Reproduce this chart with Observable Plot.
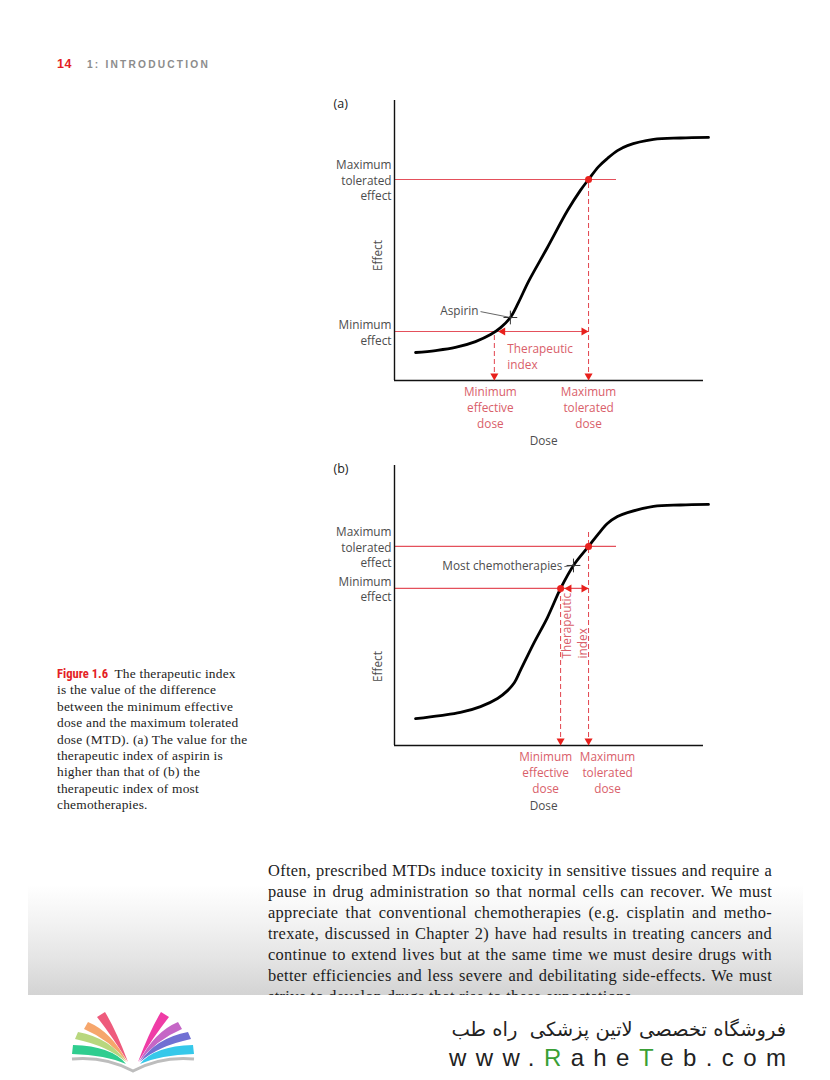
<!DOCTYPE html>
<html>
<head>
<meta charset="utf-8">
<script src="https://cdn.jsdelivr.net/npm/d3@7"></script>
<script src="https://cdn.jsdelivr.net/npm/@observablehq/plot@0.6"></script>
<style>
  html, body { margin: 0; padding: 0; background: #fff; }
  body { width: 830px; height: 1080px; position: relative; overflow: hidden; }
  .abs { position: absolute; }
  #header { left: 57px; top: 58px; font-family: 'Liberation Sans', Arial, sans-serif; font-weight: bold; line-height: 14px; white-space: nowrap; }
  #header .pg { color: #e41f26; font-size: 12.5px; letter-spacing: 0.5px; position: absolute; left: 0; top: -1px; }
  #header .ch { color: #8c8c8c; font-size: 10.2px; letter-spacing: 2.2px; position: absolute; left: 30px; top: 0; }
  #caption { left: 57px; top: 666px; width: 205px; font-family: 'Liberation Serif', 'Times New Roman', serif; font-size: 13.4px; line-height: 16.4px; letter-spacing: 0.22px; color: #222; white-space: nowrap; }
  #caption .fig { color: #e41f26; font-family: 'Liberation Sans Narrow', 'Roboto Condensed', 'Roboto', sans-serif; font-weight: bold; font-size: 12.6px; letter-spacing: 0; margin-right: 3px; }
  #band { left: 28px; top: 885px; width: 775px; height: 110px;
          background: linear-gradient(to bottom, rgba(255,255,255,0) 0%, #f2f2f2 35%, #e3e3e3 70%, #d3d3d3 100%); }
  #body { left: 268px; top: 859.5px; width: 504px; height: 135.5px; overflow: hidden;
          font-family: 'Liberation Serif', 'Times New Roman', serif; font-size: 16.4px; line-height: 21px; letter-spacing: 0.3px; color: #1c1c1c; }
  #body .ln { text-align: justify; text-align-last: justify; white-space: nowrap; }
  #body .last { text-align: left; text-align-last: left; }
  #fa { right: 44px; top: 1018px; font-family: 'DejaVu Sans', sans-serif; font-size: 19.5px; line-height: 24px; color: #222; direction: rtl; white-space: nowrap; }
  #www { right: 44px; top: 1043px; font-family: 'Liberation Sans', Arial, sans-serif; font-size: 24px; line-height: 30px; color: #222; letter-spacing: 9.4px; margin-right: -9.4px; white-space: nowrap; }
  #www .g { color: #3a9f36; }
  #logo { left: 60px; top: 1000px; }
</style>
</head>
<body>

<div id="header" class="abs"><span class="pg">14</span><span class="ch">1: INTRODUCTION</span></div>

<div id="chartA" class="abs" style="left:320px; top:90px;"></div>
<div id="chartB" class="abs" style="left:320px; top:455px;"></div>

<div id="caption" class="abs"><span class="fig">Figure 1.6</span> The therapeutic index<br>is the value of the difference<br>between the minimum effective<br>dose and the maximum tolerated<br>dose (MTD). (a) The value for the<br>therapeutic index of aspirin is<br>higher than that of (b) the<br>therapeutic index of most<br>chemotherapies.</div>

<div id="band" class="abs"></div>
<div id="body" class="abs">
  <div class="ln">Often, prescribed MTDs induce toxicity in sensitive tissues and require a</div>
  <div class="ln">pause in drug administration so that normal cells can recover. We must</div>
  <div class="ln">appreciate that conventional chemotherapies (e.g. cisplatin and metho-</div>
  <div class="ln">trexate, discussed in Chapter 2) have had results in treating cancers and</div>
  <div class="ln">continue to extend lives but at the same time we must desire drugs with</div>
  <div class="ln">better efficiencies and less severe and debilitating side-effects. We must</div>
  <div class="ln last">strive to develop drugs that rise to these expectations.</div>
</div>

<svg id="logo" class="abs" width="150" height="75" viewBox="0 0 150 75">
  <g>
    <path d="M45,12 Q56,30 68,62 Q52,36 37,17 Z" fill="#ee5b7c"/>
    <path d="M28,22 Q52,32 67,62 Q50,40 24,29 Z" fill="#f6a66c"/>
    <path d="M18,32 Q50,38 66,62 Q48,46 15,39 Z" fill="#b8d77e"/>
    <path d="M13,45 Q52,46 66,64 Q46,55 12,54 Z" fill="#2fcd8f"/>
  </g>
  <g transform="translate(146,0) scale(-1,1)">
    <path d="M45,12 Q56,30 68,62 Q52,36 37,17 Z" fill="#ef3ca6"/>
    <path d="M28,22 Q52,32 67,62 Q50,40 24,29 Z" fill="#c566c6"/>
    <path d="M18,32 Q50,38 66,62 Q48,46 15,39 Z" fill="#7070d3"/>
    <path d="M13,45 Q52,46 66,64 Q46,55 12,54 Z" fill="#35c8ea"/>
  </g>
  <path d="M12,59 Q45,56 73,71 Q101,56 134,59" fill="none" stroke="#bdbdbd" stroke-width="3"/>
</svg>

<div id="fa" class="abs">فروشگاه تخصصی لاتین پزشکی&nbsp; راه طب</div>
<div id="www" class="abs">www.<span class="g">R</span>ahe<span class="g">T</span>eb.com</div>

<script>
// ---------- data (dose / effect in arbitrary units, 0–100) ----------
// (a) aspirin dose–response curve
const doseA   = [6.7, 13.1, 19.4, 25.8, 30.6, 33.8, 36.9, 39.5, 42.7, 48.7, 55.1, 59.2, 61.8, 65.0, 67.8, 71.0, 74.2, 82.5, 91.1, 100];
const effectA = [10.0, 10.7, 11.8, 13.9, 16.4, 18.9, 22.5, 27.9, 35.4, 47.5, 60.7, 67.9, 71.8, 76.4, 79.3, 82.1, 83.9, 86.1, 86.6, 86.8];
const effectLevelsA = [17.5, 71.8];   // minimum effect, maximum tolerated effect
const doseLevelsA   = [31.8, 61.8];   // minimum effective dose, maximum tolerated dose
const drugPointA    = [36.9, 22.5];   // Aspirin marker on the curve

// (b) most chemotherapies dose–response curve
const doseB   = [6.7, 14.6, 21.0, 27.4, 32.8, 36.0, 38.2, 40.1, 44.3, 48.7, 52.9, 57.0, 61.8, 65.0, 67.8, 71.0, 74.2, 82.5, 91.1, 100];
const effectB = [9.6, 10.7, 11.8, 13.9, 16.8, 19.6, 22.5, 26.8, 36.4, 45.7, 56.1, 64.3, 71.1, 75.7, 79.3, 81.8, 83.2, 85.4, 85.9, 86.1];
const effectLevelsB = [56.1, 71.1];
const doseLevelsB   = [52.9, 61.8];
const drugPointB    = [57.0, 64.3];   // Most chemotherapies marker

// labels
const panelLabels      = ["(a)", "(b)"];
const drugLabels       = ["Aspirin", "Most chemotherapies"];
const effectTickLabels = ["Minimum\neffect", "Maximum\ntolerated\neffect"];
const doseTickLabels   = ["Minimum\neffective\ndose", "Maximum\ntolerated\ndose"];
const indexLabel       = "Therapeutic\nindex";

// ---------- styles ----------
const GREY = "#4d4d4d";
const RED_LINE = "#e4505b";
const RED_DASH = "#e2444e";
const RED_HEAD = "#e8201c";
const RED_DOT  = "#e8221e";
const RED_TEXT = "#d9606a";

function drawPanel(cfg) {
  const [minE, maxE] = cfg.effectLevels;
  const [minD, maxD] = cfg.doseLevels;
  const curve = cfg.dose.map((x, i) => ({x, y: cfg.effect[i]}));
  const [lx, ly] = cfg.labelPoint;
  const dots = cfg.dotsBoth ? [[minD, minE], [maxD, maxE]] : [[maxD, maxE]];
  return Plot.plot({
    width: 400, height: 365,
    marginLeft: 74, marginRight: 12, marginTop: 10, marginBottom: 75,
    x: {domain: [0, 100], axis: null},
    y: {domain: [0, 100], axis: null},
    style: {fontFamily: "'Open Sans', 'Noto Sans', sans-serif", fontSize: "11.8px", background: "transparent", overflow: "visible"},
    marks: [
      // reference lines
      Plot.ruleY([maxE], {x1: 0, x2: cfg.maxLineEnd, stroke: RED_LINE, strokeWidth: 1.1}),
      Plot.ruleY([minE], {x1: 0, x2: maxD, stroke: RED_LINE, strokeWidth: 1.1}),
      Plot.ruleX([minD], {y1: 0, y2: minE, stroke: RED_DASH, strokeWidth: 1, strokeDasharray: "5,3"}),
      Plot.ruleX([maxD], {y1: 0, y2: cfg.maxDashTop, stroke: RED_DASH, strokeWidth: 1, strokeDasharray: "5,3"}),
      // axes
      Plot.ruleX([0], {y1: 0, y2: 100, stroke: "#111", strokeWidth: 1.4}),
      Plot.ruleY([0], {x1: 0, x2: cfg.axisEnd, stroke: "#111", strokeWidth: 1.4}),
      // dose–response curve
      Plot.line(curve, {x: "x", y: "y", curve: "catmull-rom", stroke: "#000", strokeWidth: 2.8}),
      // therapeutic index double arrow heads
      Plot.dot([minD], {x: d => d, y: minE, symbol: "triangle", r: 3, fill: RED_HEAD, rotate: -90, dx: 8.5}),
      Plot.dot([maxD], {x: d => d, y: minE, symbol: "triangle", r: 3, fill: RED_HEAD, rotate: 90, dx: -4.7}),
      // down arrow heads on the dose axis
      Plot.dot(cfg.doseLevels, {x: d => d, y: 0, symbol: "triangle", r: 3, fill: RED_HEAD, rotate: 180, dy: -4.7}),
      // red points
      Plot.dot(dots, {x: d => d[0], y: d => d[1], r: 3.5, fill: RED_DOT}),
      // drug marker + leader
      Plot.link([cfg.drugPoint], {x1: lx, y1: ly, x2: d => d[0], y2: d => d[1], stroke: "#555", strokeWidth: 0.9}),
      Plot.dot([cfg.drugPoint], {x: d => d[0], y: d => d[1], symbol: "plus", r: 4.5, stroke: "#333", strokeWidth: 1}),
      Plot.text([cfg.drugLabel], {x: lx, y: ly, textAnchor: "end", dx: -2, fill: GREY}),
      // effect labels
      Plot.text(cfg.effectLevels, {x: 0, y: d => d, text: (d, i) => effectTickLabels[i], textAnchor: "end", dx: -3, lineHeight: 1.35, fill: GREY}),
      // dose labels
      Plot.text([doseTickLabels[0]], {x: minD, y: 0, dx: cfg.minLabelDx, dy: 4, lineAnchor: "top", lineHeight: 1.35, fill: RED_TEXT}),
      Plot.text([doseTickLabels[1]], {x: maxD, y: 0, dx: cfg.maxLabelDx, dy: 4, lineAnchor: "top", lineHeight: 1.35, fill: RED_TEXT}),
      // axis titles
      Plot.text(["Dose"], {x: cfg.doseLabelX, y: 0, dy: 61, fill: GREY}),
      Plot.text(["Effect"], {x: 0, y: cfg.effectLabelY, dx: -16, rotate: -90, fill: GREY}),
      // panel letter
      Plot.text([cfg.panel], {frameAnchor: "top-left", dx: -61, dy: -1, fill: "#222", fontSize: 12.5}),
      // therapeutic index label
      Plot.text([indexLabel], {x: minD, y: minE, lineHeight: 1.35, fill: RED_TEXT, ...cfg.indexStyle})
    ]
  });
}

document.getElementById("chartA").appendChild(drawPanel({
  panel: panelLabels[0], dose: doseA, effect: effectA,
  effectLevels: effectLevelsA, doseLevels: doseLevelsA,
  drugPoint: drugPointA, drugLabel: drugLabels[0], labelPoint: [27.4, 24.6],
  dotsBoth: false, maxLineEnd: 70.7, maxDashTop: effectLevelsA[1], axisEnd: 98.4,
  minLabelDx: -4, maxLabelDx: 0, doseLabelX: 47.5, effectLabelY: 44.6,
  indexStyle: {dx: 13, dy: 10, textAnchor: "start", lineAnchor: "top"}
}));

document.getElementById("chartB").appendChild(drawPanel({
  panel: panelLabels[1], dose: doseB, effect: effectB,
  effectLevels: effectLevelsB, doseLevels: doseLevelsB,
  drugPoint: drugPointB, drugLabel: drugLabels[1], labelPoint: [54.1, 63.9],
  dotsBoth: true, maxLineEnd: 70.7, maxDashTop: 76.1, axisEnd: 98.4,
  minLabelDx: -15, maxLabelDx: 19, doseLabelX: 47.5, effectLabelY: 28.2,
  indexStyle: {dx: 13.5, dy: 70, rotate: -90, textAnchor: "start", lineAnchor: "middle"}
}));
</script>
</body>
</html>
